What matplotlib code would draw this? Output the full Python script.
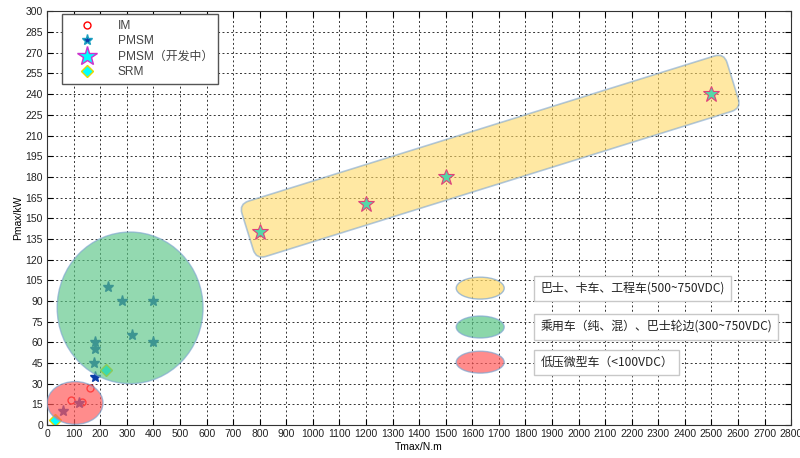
import numpy as np
import matplotlib.pyplot as plt
from matplotlib.patches import Ellipse, FancyBboxPatch
from matplotlib.lines import Line2D
from matplotlib.transforms import Affine2D

plt.rcParams['font.family'] = ['Liberation Sans', 'Noto Sans CJK SC', 'DejaVu Sans']
cjk = ['Noto Sans CJK SC', 'DejaVu Sans']

# data: peak torque (N.m) vs peak power (kW)
im_t = [90, 130, 160]
im_p = [18, 17, 27]
pmsm_t = [60, 120, 180, 175, 180, 180, 230, 280, 320, 400, 400]
pmsm_p = [10, 16, 35, 45, 55, 60, 100, 90, 65, 90, 60]
dev_t = [800, 1200, 1500, 2500]
dev_p = [140, 160, 180, 240]
srm_t = [30, 220]
srm_p = [4, 40]

zone_labels = ['巴士、卡车、工程车(500~750VDC)',
               '乘用车（纯、混）、巴士轮边(300~750VDC)',
               '低压微型车（<100VDC）']
zone_colors = ['#ffd966', '#5ac686', '#ff5b5b']

fig = plt.figure(figsize=(8, 4.58), dpi=100)
ax = fig.add_axes([0.059, 0.072, 0.93, 0.903])
ax.set_xlim(0, 2800)
ax.set_ylim(0, 300)
ax.set_xticks(np.arange(0, 2801, 100))
ax.set_yticks(np.arange(0, 301, 15))
ax.grid(True, ls=(0, (2, 2.5)), color='k', lw=0.7, alpha=0.8)
ax.tick_params(direction='in', top=True, right=True, length=4, labelsize=7.5, pad=3,
               labelcolor='#222222')
for s in ax.spines.values():
    s.set_color('#333333')
ax.set_xlabel('Tmax/N.m', fontsize=7.5, labelpad=2)
ax.set_ylabel('Pmax/kW', fontsize=7.5, labelpad=2)

# markers
ax.plot(im_t, im_p, 'o', mfc='none', mec='red', ms=5, zorder=2)
ax.plot(pmsm_t, pmsm_p, '*', color='#0a3da8', ms=8, zorder=2)
ax.plot(srm_t, srm_p, 'D', mfc='cyan', mec='#e8d800', ms=6, zorder=2)

# zones drawn over the points
edge = '#7ea6d0'
ax.add_patch(Ellipse((105, 16), 210, 31, fc=zone_colors[2], ec=edge, alpha=0.7, lw=1, zorder=3))
ax.add_patch(Ellipse((312, 85), 549, 110, fc=zone_colors[1], ec=edge, alpha=0.65, lw=1, zorder=3))

# rotated rounded band around the dev points, built in pixel units
pos = ax.get_position()
sx = fig.get_figwidth() * fig.dpi * pos.width / 2800
sy = fig.get_figheight() * fig.dpi * pos.height / 300
L, W = 508, 58
band = FancyBboxPatch((-L / 2, -W / 2), L, W, boxstyle='round,pad=0,rounding_size=10',
                      fc=zone_colors[0], ec=edge, alpha=0.6, lw=1.2, zorder=3)
band.set_transform(Affine2D().rotate_deg(17.3).translate(1667 * sx, 195 * sy).scale(1 / sx, 1 / sy) + ax.transData)
ax.add_patch(band)

# dev stars sit visibly inside the band
ax.plot(dev_t, dev_p, '*', mfc='#55d8a8', mec='#e0407a', mew=0.8, ms=12, zorder=4)

# zone legend on the right
ys = [0.331, 0.237, 0.152]
for lab, c, y in zip(zone_labels, zone_colors, ys):
    ax.add_patch(Ellipse((0.582, y), 0.0645, 0.053, transform=ax.transAxes,
                         fc=c, ec=edge, alpha=0.7, lw=1, zorder=4))
    ax.text(0.663, y, lab, transform=ax.transAxes, fontsize=8.6, va='center', ha='left',
            family=cjk, zorder=5, color='#222222',
            bbox=dict(boxstyle='square,pad=0.5', fc='white', ec='#c8c8c8', lw=1))

# marker legend
handles = [Line2D([], [], ls='none', marker='o', mfc='none', mec='red', ms=5),
           Line2D([], [], ls='none', marker='*', color='#0a3da8', mec='#1aa0c0', ms=8),
           Line2D([], [], ls='none', marker='*', mfc='cyan', mec='#cc33cc', ms=15),
           Line2D([], [], ls='none', marker='D', mfc='cyan', mec='#e8d800', ms=6)]
leg = ax.legend(handles, ['IM', 'PMSM', 'PMSM（开发中）', 'SRM'], loc='upper left',
                bbox_to_anchor=(0.02, 0.993), fontsize=8.6, fancybox=False, framealpha=1,
                edgecolor='#555555', handletextpad=1.0, borderpad=0.45, labelspacing=0.3,
                handlelength=3.2, borderaxespad=0)
for t in leg.get_texts():
    t.set_color('#444444')
leg.set_zorder(6)

fig.savefig('out.png', dpi=100)
